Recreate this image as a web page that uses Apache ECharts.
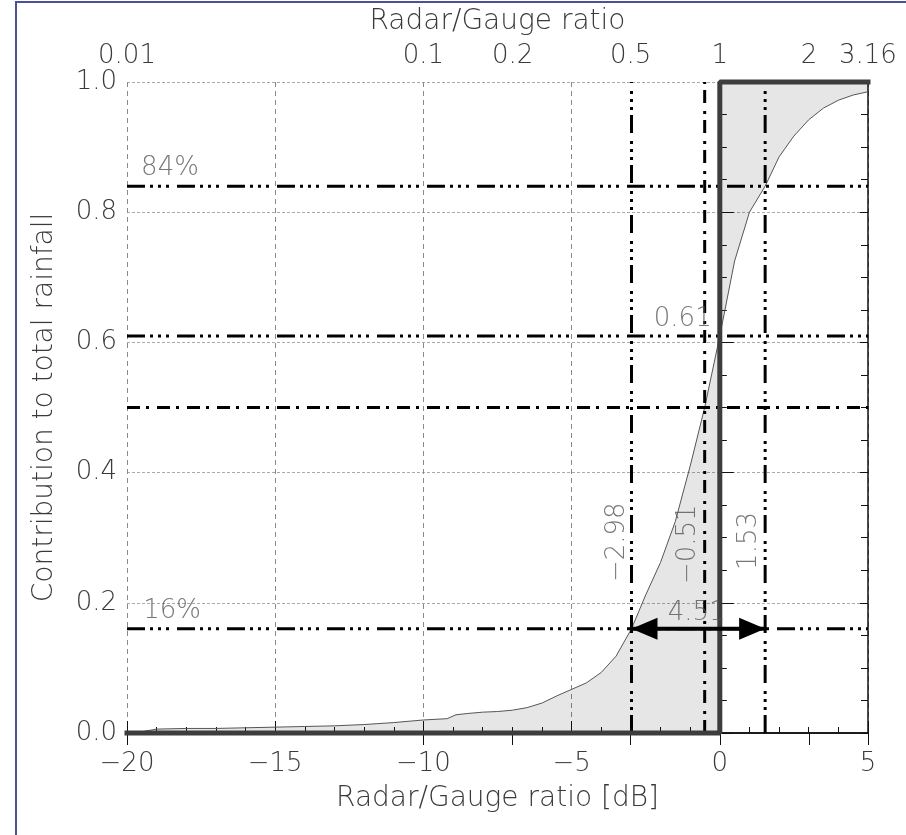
<!DOCTYPE html>
<html>
<head>
<meta charset="utf-8">
<script src="https://cdn.jsdelivr.net/npm/echarts@6/dist/echarts.min.js"></script>
<style>
  html, body { margin: 0; padding: 0; background: #fff; overflow: hidden; }
  #frame { position: absolute; left: 15px; top: 1px; width: 900px; height: 840px;
           border-left: 2px solid #4b509c; border-top: 2px solid #4b509c; }
  #chart { position: absolute; left: 0; top: 0; width: 906px; height: 835px; }
</style>
</head>
<body>
<div id="frame"></div>
<div id="chart"></div>
<script>
// cumulative contribution curve
const curveDb = [-20, -19.5, -19, -18, -17, -16, -15, -14, -13, -12, -11, -10, -9.2, -8.9, -8.5, -8,
  -7.5, -7, -6.5, -6, -5.5, -5, -4.5, -4, -3.5, -2.98, -2.5, -2, -1.5, -1, -0.51, 0,
  0.5, 1, 1.53, 2, 2.5, 3, 3.5, 4, 4.5, 5]
const curveFrac = [0, 0.002, 0.006, 0.007, 0.007, 0.008, 0.009, 0.010, 0.011, 0.013, 0.016, 0.020, 0.022, 0.028, 0.030, 0.032,
  0.033, 0.035, 0.039, 0.046, 0.057, 0.067, 0.077, 0.093, 0.118, 0.16, 0.212, 0.262, 0.325, 0.41, 0.50, 0.61,
  0.725, 0.80, 0.84, 0.885, 0.917, 0.942, 0.960, 0.972, 0.980, 0.985]

// ideal (perfect radar) step
const stepDb = [-20, 0, 0, 5]
const stepFrac = [0, 0, 1, 1]

// top axis: radar/gauge ratio
const topRatios = [0.01, 0.1, 0.2, 0.5, 1, 2, 3.16]
const topRatioLabels = ["0.01", "0.1", "0.2", "0.5", "1", "2", "3.16"]

// reference lines
const hLevels = [0.84, 0.61, 0.5, 0.16]
const hDash = ["d3", "d3", "d1", "d3"]
const vLevels = [-2.98, -0.51, 1.53]
const vDash = ["d3", "d1", "d3"]
const arrowFrom = [-2.98, 0.16]
const arrowTo = [1.53, 0.16]

// annotations
const noteTexts = ["84%", "16%", "0.61", "\u22122.98", "\u22120.51", "1.53", "4.51"]
const noteDb = [-18.55, -18.48, -1.25, -3.47, -1.08, 1.01, -0.78]
const noteFrac = [0.868, 0.187, 0.636, 0.293, 0.290, 0.295, 0.184]
const noteRotate = [0, 0, 0, 90, 90, 90, 0]

const FONT = "DejaVu Sans"
const TXT = "#3a3a3a"
const LBL = 26
const TTL = 28
const dashes = {d3: [18, 5, 3, 5, 3, 5, 3, 8], d1: [13, 6, 3, 8]}
const minus = v => String(v).replace("-", "\u2212")
const font = (size, color) => ({fontSize: size, color: color || TXT, fontFamily: FONT, fontWeight: 200})

const pairs = (xs, ys) => xs.map((x, i) => [x, ys[i]])
const curve = pairs(curveDb, curveFrac)
const leftPart = curve.filter(p => p[0] <= 0)
const rightPart = curve.filter(p => p[0] >= 0)

const refSeries = [
  ...hLevels.map((y, i) => ({
    type: "line", silent: true, symbol: "none", z: 4,
    data: [[-20, y], [5, y]],
    lineStyle: {color: "#000", width: 3, type: dashes[hDash[i]]},
  })),
  ...vLevels.map((x, i) => ({
    type: "line", silent: true, symbol: "none", z: 4,
    data: [[x, 0], [x, 1]],
    lineStyle: {color: "#000", width: 3, type: dashes[vDash[i]]},
  })),
]

const chart = echarts.init(document.getElementById("chart"), null, {renderer: "canvas"})

chart.setOption({
  animation: false,
  backgroundColor: "transparent",
  textStyle: {fontFamily: FONT, fontWeight: 200},
  grid: {left: 127, right: 38, top: 82, bottom: 102},
  xAxis: [
    {
      type: "value", min: -20, max: 5, interval: 5, position: "bottom",
      name: "Radar/Gauge ratio [dB]", nameLocation: "middle", nameGap: 52,
      nameTextStyle: font(TTL),
      axisLine: {show: true, lineStyle: {color: "#111", width: 1.5}},
      axisTick: {show: true, inside: true, length: 12, lineStyle: {color: "#111"}},
      minorTick: {show: true, splitNumber: 5, length: 6, lineStyle: {color: "#111"}},
      axisLabel: {...font(LBL), margin: 18, formatter: minus},
      splitLine: {show: true, lineStyle: {color: "#8a8a8a", width: 1, type: [5, 4]}},
    },
    {
      type: "log", logBase: 10, min: 0.01, max: 3.1623, position: "top",
      name: "Radar/Gauge ratio", nameLocation: "middle", nameGap: 46,
      nameTextStyle: font(TTL),
      axisLine: {show: true, lineStyle: {color: "#111", width: 1.5}},
      axisTick: {show: true, inside: true, length: 12, customValues: topRatios, lineStyle: {color: "#111"}},
      axisLabel: {
        ...font(LBL), margin: 13, customValues: topRatios,
        showMinLabel: true, showMaxLabel: true,
        formatter: v => {
          let best = 0
          topRatios.forEach((r, i) => { if (Math.abs(r - v) < Math.abs(topRatios[best] - v)) best = i })
          return topRatioLabels[best]
        },
      },
      splitLine: {show: false},
    },
  ],
  yAxis: [
    {
      type: "value", min: 0, max: 1, interval: 0.2, position: "left",
      name: "Contribution to total rainfall", nameLocation: "middle", nameGap: 68,
      nameTextStyle: font(TTL),
      axisLine: {show: true, lineStyle: {color: "#111", width: 1.5}},
      axisTick: {show: true, inside: true, length: 14, lineStyle: {color: "#111"}},
      minorTick: {show: true, splitNumber: 4, length: 7, lineStyle: {color: "#111"}},
      axisLabel: {...font(LBL), margin: 10, formatter: v => v.toFixed(1)},
      splitLine: {show: true, lineStyle: {color: "#aaa", width: 1, type: [3, 2]}},
    },
    {
      type: "value", min: 0, max: 1, interval: 0.2, position: "right",
      axisLine: {show: true, lineStyle: {color: "#111", width: 1.5}},
      axisTick: {show: true, inside: true, length: 8, lineStyle: {color: "#111"}},
      minorTick: {show: true, splitNumber: 4, length: 7, lineStyle: {color: "#111"}},
      axisLabel: {show: false},
      splitLine: {show: false},
    },
  ],
  series: [
    {
      type: "line", name: "below", data: leftPart, symbol: "none", silent: true, z: 2,
      lineStyle: {color: "#555", width: 1},
      areaStyle: {color: "rgba(0,0,0,0.14)", origin: "start"},
    },
    {
      type: "line", name: "above", data: rightPart, symbol: "none", silent: true, z: 2,
      lineStyle: {color: "#555", width: 1},
      areaStyle: {color: "rgba(0,0,0,0.14)", origin: "end"},
    },
    ...refSeries,
    {
      type: "line", name: "ideal", data: pairs(stepDb, stepFrac), symbol: "none", silent: true,
      clip: false, z: 6,
      lineStyle: {color: "#3d3d3d", width: 5, cap: "square"},
    },
    {
      type: "line", name: "spread", data: [arrowFrom, arrowTo], symbol: "none", silent: true, z: 7,
      lineStyle: {color: "#000", width: 4},
    },
    {
      type: "scatter", name: "spreadHeads", silent: true, z: 7, symbol: "triangle", symbolSize: [22, 26],
      itemStyle: {color: "#000", opacity: 1},
      data: [
        {value: arrowFrom, symbolRotate: 90, symbolOffset: [13, 0]},
        {value: arrowTo, symbolRotate: -90, symbolOffset: [-13, 0]},
      ],
    },
    {
      type: "scatter", name: "notes", silent: true, z: 8, symbolSize: 1,
      itemStyle: {color: "rgba(0,0,0,0)"},
      data: noteTexts.map((t, i) => ({
        value: [noteDb[i], noteFrac[i]],
        label: {show: true, position: "inside", formatter: t, rotate: noteRotate[i], ...font(LBL, "#555")},
      })),
    },
  ],
})
</script>
</body>
</html>
